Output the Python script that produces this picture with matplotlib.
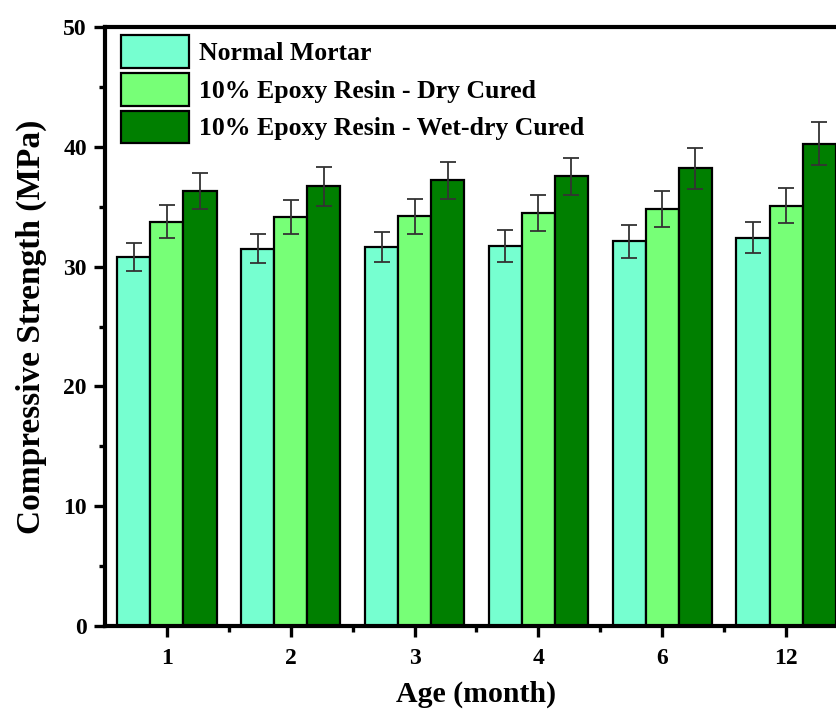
import numpy as np
import matplotlib as mpl
mpl.use("Agg")
import matplotlib.pyplot as plt
from matplotlib.ticker import MultipleLocator

mpl.rcParams.update({
	"font.family": "Liberation Serif",
	"font.weight": "bold",
	"axes.labelweight": "bold",
})

ages = ["1", "2", "3", "4", "6", "12"]
series_names = ["Normal Mortar", "10% Epoxy Resin - Dry Cured", "10% Epoxy Resin - Wet-dry Cured"]
normal = [30.8, 31.5, 31.6, 31.7, 32.1, 32.4]
normal_err = [1.2, 1.2, 1.25, 1.35, 1.4, 1.3]
dry = [33.75, 34.15, 34.2, 34.45, 34.8, 35.1]
dry_err = [1.4, 1.4, 1.45, 1.5, 1.5, 1.5]
wetdry = [36.3, 36.7, 37.2, 37.55, 38.2, 40.25]
wetdry_err = [1.5, 1.6, 1.55, 1.55, 1.7, 1.8]
colors = ["#76FFD0", "#77FF77", "#007F00"]

fig = plt.figure(figsize=(8.37, 7.2), dpi=100)
ax = fig.add_axes([105 / 837, 1 - 626 / 720, 743 / 837, 599 / 720])

x = np.arange(1, len(ages) + 1)
width = 0.267
data = [(normal, normal_err), (dry, dry_err), (wetdry, wetdry_err)]
for i, (vals, errs) in enumerate(data):
	ax.bar(x + (i - 1) * width, vals, width, yerr=errs, color=colors[i],
		edgecolor="black", linewidth=1.6, label=series_names[i],
		error_kw=dict(ecolor="#333333", elinewidth=1.3, capsize=6, capthick=1.3))

ax.set_xlim(0.5, 6.5)
ax.set_ylim(0, 50)
ax.set_xticks(x)
ax.set_xticklabels(ages)
ax.set_xticks(x[:-1] + 0.5, minor=True)
ax.yaxis.set_major_locator(MultipleLocator(10))
ax.yaxis.set_minor_locator(MultipleLocator(5))

for sp in ax.spines.values():
	sp.set_linewidth(3)
ax.tick_params(which="major", direction="out", length=8, width=2.4, labelsize=17, pad=5)
ax.tick_params(which="minor", direction="out", length=4, width=2.4)
ax.tick_params(axis="x", pad=8)

ax.set_xlabel("Age (month)", fontsize=21.5, labelpad=8)
ax.set_ylabel("Compressive Strength (MPa)", fontsize=24, labelpad=12)

ax.legend(loc="upper left", bbox_to_anchor=(121 / 837, 1 - 35 / 720),
	bbox_transform=fig.transFigure, frameon=False, fontsize=18.5,
	handlelength=2.65, handleheight=1.58, labelspacing=0.2, handletextpad=0.4,
	borderaxespad=0, borderpad=0)

fig.savefig("out.png", dpi=100)
